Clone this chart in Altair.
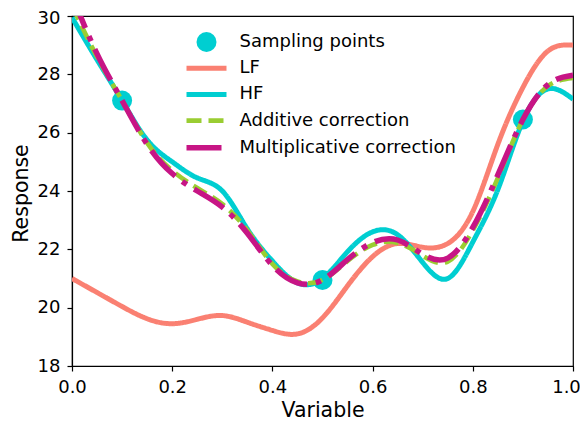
import altair as alt
import pandas as pd

# ---- data ----
x_grid = [0.00, 0.05, 0.10, 0.15, 0.20, 0.25, 0.30, 0.35, 0.40, 0.45, 0.50,
          0.55, 0.60, 0.65, 0.70, 0.75, 0.80, 0.85, 0.90, 0.95, 1.00]
lf = [21.0, 20.52, 20.04, 19.62, 19.45, 19.6, 19.73, 19.5, 19.22, 19.1, 19.65,
      20.75, 21.75, 22.2, 22.07, 22.2, 23.3, 25.6, 27.55, 28.8, 29.0]
hf = [29.95, 28.5, 27.1, 25.75, 25.0, 24.45, 24.0, 22.7, 21.6, 20.85, 21.0,
      21.92, 22.6, 22.5, 21.55, 21.0, 22.25, 24.05, 26.4, 27.5, 27.15]
additive = [30.35, 28.6, 27.1, 25.65, 24.7, 24.1, 23.55, 22.65, 21.5, 20.9, 20.95,
            21.6, 22.15, 22.22, 21.78, 21.58, 22.65, 24.45, 26.45, 27.6, 27.88]
multiplicative = [30.7, 28.7, 27.1, 25.6, 24.6, 24.0, 23.45, 22.55, 21.45, 20.85, 20.95,
                  21.65, 22.23, 22.32, 21.83, 21.7, 22.75, 24.55, 26.45, 27.65, 27.97]
sample_x = [0.1, 0.5, 0.9]
sample_y = [27.1, 20.95, 26.45]

labels = ["Sampling points", "LF", "HF", "Additive correction", "Multiplicative correction"]
colors = ["#00CED1", "#FA8072", "#00CED1", "#9ACD32", "#C71585"]
dashes = [[1, 0], [1, 0], [1, 0], [15, 7], [35, 8.8, 5.5, 8.8]]
widths = {"LF": 5, "HF": 5, "Additive correction": 4.6, "Multiplicative correction": 5.5}

series_values = {
    "LF": lf,
    "HF": hf,
    "Additive correction": additive,
    "Multiplicative correction": multiplicative,
}

rows = []
for name, vals in series_values.items():
    for xv, yv in zip(x_grid, vals):
        rows.append({"x": xv, "y": yv, "series": name})
lines_df = pd.DataFrame(rows)
pts_df = pd.DataFrame({"x": sample_x, "y": sample_y, "series": "Sampling points"})

FONT = "DejaVu Sans"

x_enc = alt.X("x:Q", scale=alt.Scale(domain=[0, 1], nice=False, zero=False),
              axis=alt.Axis(title="Variable", values=[0, 0.2, 0.4, 0.6, 0.8, 1.0], format=".1f",
                            titleY=50, titleBaseline="alphabetic",
                            labelFlush=False, labelOverlap=False, labelPadding=7,
                            labelOffset=alt.ExprRef(expr="datum.value == 1 ? -7 : 0")))
y_enc = alt.Y("y:Q", scale=alt.Scale(domain=[18, 30], nice=False, zero=False),
              axis=alt.Axis(title="Response", values=list(range(18, 31, 2)),
                            titleX=-45, titleY=177, titleBaseline="alphabetic", titleAngle=270,
                            labelFlush=False, labelOverlap=False, labelPadding=7,
                            labelOffset=alt.ExprRef(expr="datum.value == 30 ? 2 : 0")))

color_scale = alt.Scale(domain=labels, range=colors)
dash_scale = alt.Scale(domain=labels, range=dashes)

legend = alt.Legend(
    title=None, orient="none", legendX=125.5, legendY=17, padding=0,
    labelFont=FONT, labelFontSize=18, labelColor="black", labelOffset=24, labelLimit=0,
    rowPadding=6.2, symbolSize=400,
    symbolType=alt.ExprRef(expr="datum.value == 'Sampling points' ? 'circle' : 'M-2,0H2'"),
    symbolStrokeWidth=alt.ExprRef(
        expr="datum.value == 'Sampling points' ? 0 : (datum.value == 'Multiplicative correction' ? 5.5 : (datum.value == 'Additive correction' ? 4.6 : 5))"),
    symbolFillColor=alt.ExprRef(expr="datum.value == 'Sampling points' ? '#00CED1' : 'transparent'"),
    symbolOpacity=1,
)

points = alt.Chart(pts_df).mark_circle(size=400, opacity=1).encode(
    x=x_enc, y=y_enc,
    color=alt.Color("series:N", scale=color_scale, legend=legend),
)

layers = [points]
for name in ["LF", "HF", "Additive correction", "Multiplicative correction"]:
    layers.append(
        alt.Chart(lines_df[lines_df.series == name]).mark_line(
            strokeWidth=widths[name], interpolate="natural", clip=True
        ).encode(
            x=x_enc, y=y_enc,
            color=alt.Color("series:N", scale=color_scale, legend=legend),
            strokeDash=alt.StrokeDash("series:N", scale=dash_scale, legend=legend),
        )
    )

chart = alt.layer(*layers).properties(
    width=501, height=350,
    autosize=alt.AutoSizeParams(type="none"),
    padding={"left": 64, "top": 8, "right": 7, "bottom": 55},
).configure_view(
    stroke="black", strokeWidth=1.2
).configure_axis(
    labelFont=FONT, labelFontSize=18, labelColor="black",
    titleFont=FONT, titleFontSize=20.5, titleFontWeight="normal", titleColor="black",
    tickColor="black", domainColor="black", tickSize=5, tickWidth=1.2, domainWidth=1.2,
    grid=False,
)

chart.save("out.html", embed_options={"renderer": "svg", "actions": False})
